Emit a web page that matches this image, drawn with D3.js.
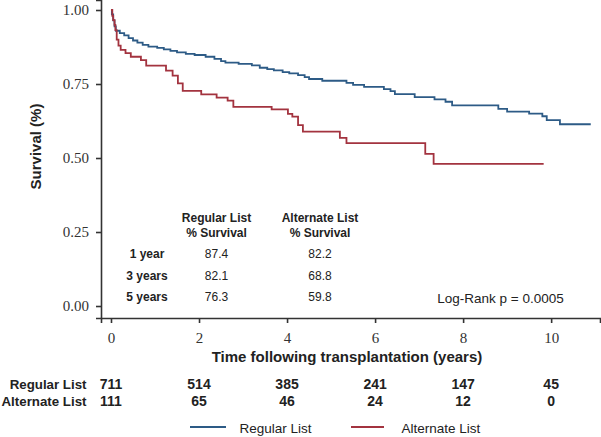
<!DOCTYPE html>
<html>
<head>
<meta charset="utf-8">
<script src="https://cdn.jsdelivr.net/npm/d3@7"></script>
<style>
  body { margin: 0; background: #fff; }
  svg { display: block; }
</style>
</head>
<body>
<svg id="chart" width="601" height="437"></svg>
<script>
// ---- Data ----
const regularTimes  = [0, 0.02, 0.05, 0.08, 0.11, 0.2, 0.3, 0.4, 0.5, 0.6, 0.72, 0.85, 1.05, 1.2, 1.35, 1.5, 1.7, 1.9, 2.15, 2.35, 2.5, 2.6, 2.9, 3.2, 3.38, 3.55, 3.7, 3.9, 4.05, 4.25, 4.4, 4.5, 4.8, 5.35, 5.5, 5.75, 6.2, 6.35, 6.45, 6.9, 7.35, 7.6, 7.75, 8.8, 9.0, 9.5, 9.8, 9.9, 10.2, 10.9];
const regularSurv   = [1.0, 0.985, 0.965, 0.945, 0.93, 0.922, 0.914, 0.905, 0.897, 0.89, 0.882, 0.876, 0.872, 0.867, 0.862, 0.857, 0.852, 0.848, 0.842, 0.835, 0.827, 0.822, 0.818, 0.813, 0.805, 0.8, 0.796, 0.79, 0.786, 0.78, 0.773, 0.767, 0.761, 0.754, 0.747, 0.74, 0.733, 0.726, 0.716, 0.706, 0.698, 0.69, 0.678, 0.666, 0.657, 0.65, 0.641, 0.628, 0.614, 0.614];
const alternateTimes = [0, 0.03, 0.05, 0.08, 0.1, 0.13, 0.17, 0.22, 0.33, 0.45, 0.68, 0.8, 1.25, 1.4, 1.52, 1.63, 2.05, 2.4, 2.65, 2.78, 3.65, 4.02, 4.12, 4.25, 4.36, 5.2, 5.35, 7.14, 7.33, 9.83];
const alternateSurv  = [1.0, 0.98, 0.966, 0.95, 0.932, 0.9, 0.88, 0.865, 0.854, 0.842, 0.831, 0.812, 0.795, 0.778, 0.752, 0.727, 0.715, 0.704, 0.694, 0.673, 0.664, 0.649, 0.64, 0.611, 0.589, 0.568, 0.55, 0.514, 0.48, 0.48];

const seriesNames = ["Regular List", "Alternate List"];
const xTicks = [0, 2, 4, 6, 8, 10];
const yTicks = [0, 0.25, 0.5, 0.75, 1.0];
const riskRegular = [711, 514, 385, 241, 147, 45];
const riskAlternate = [111, 65, 46, 24, 12, 0];
const tableRows = ["1 year", "3 years", "5 years"];
const tableRegular = ["87.4", "82.1", "76.3"];
const tableAlternate = ["82.2", "68.8", "59.8"];
const tableHeaders = [["Regular List", "% Survival"], ["Alternate List", "% Survival"]];
const pValueText = "Log-Rank p = 0.0005";

// ---- Layout ----
const colors = ["#2d5b86", "#a3333f"];
const axisColor = "#333";
const serif = "'Liberation Serif', 'Times New Roman', serif";
const sans = "'Liberation Sans', Arial, sans-serif";

const svg = d3.select("#chart");
const x = d3.scaleLinear().domain([-0.227, 11.11]).range([101, 600]);
const y = d3.scaleLinear().domain([-0.0405, 1.0338]).range([318, 0]);

// Curves
const line = d3.line().x(d => x(d[0])).y(d => y(d[1])).curve(d3.curveStepAfter);
const series = [
  d3.zip(regularTimes, regularSurv),
  d3.zip(alternateTimes, alternateSurv)
];
series.forEach((s, i) => {
  svg.append("path").datum(s)
    .attr("d", line)
    .attr("fill", "none")
    .attr("stroke", colors[i])
    .attr("stroke-width", 1.8);
});

// Axes
const xAxis = svg.append("g").attr("transform", "translate(0,318)")
  .call(d3.axisBottom(x).tickValues(xTicks).tickSizeOuter(0).tickSize(5).tickPadding(9).tickFormat(d3.format("d")));
const yAxis = svg.append("g").attr("transform", "translate(101,0)")
  .call(d3.axisLeft(y).tickValues(yTicks).tickSizeOuter(0).tickSize(5).tickPadding(7).tickFormat(d3.format(".2f")));
[xAxis, yAxis].forEach(g => {
  g.select(".domain").attr("stroke", axisColor).attr("stroke-width", 1.6);
  g.selectAll(".tick line").attr("stroke", axisColor).attr("stroke-width", 1.6);
  g.selectAll(".tick text").attr("fill", "#333").style("font-family", serif).style("font-size", "15px");
});

// Axis titles
svg.append("text")
  .attr("transform", "translate(41,146.5) rotate(-90)")
  .attr("text-anchor", "middle")
  .style("font-family", sans).style("font-weight", "bold").style("font-size", "15px")
  .attr("fill", "#222")
  .text("Survival (%)");
svg.append("text")
  .attr("x", 347).attr("y", 362)
  .attr("text-anchor", "middle")
  .style("font-family", sans).style("font-weight", "bold").style("font-size", "15px")
  .attr("fill", "#222")
  .text("Time following transplantation (years)");

// In-plot survival table
const tbl = svg.append("g").style("font-family", sans).attr("fill", "#222");
const headerX = [216.5, 320];
tableHeaders.forEach((h, i) => {
  h.forEach((t, j) => {
    tbl.append("text").attr("x", headerX[i]).attr("y", 222 + j * 15)
      .attr("text-anchor", "middle").style("font-weight", "bold").style("font-size", "12px").text(t);
  });
});
tableRows.forEach((r, i) => {
  const yy = 258 + i * 21.5;
  tbl.append("text").attr("x", 147).attr("y", yy).attr("text-anchor", "middle")
    .style("font-weight", "bold").style("font-size", "12px").text(r);
  tbl.append("text").attr("x", headerX[0]).attr("y", yy).attr("text-anchor", "middle")
    .style("font-size", "12px").text(tableRegular[i]);
  tbl.append("text").attr("x", headerX[1]).attr("y", yy).attr("text-anchor", "middle")
    .style("font-size", "12px").text(tableAlternate[i]);
});
svg.append("text").attr("x", 500.5).attr("y", 303).attr("text-anchor", "middle")
  .style("font-family", sans).style("font-size", "13.5px").attr("fill", "#222")
  .text(pValueText);

// Risk table
const riskRows = [riskRegular, riskAlternate];
riskRows.forEach((row, i) => {
  const yy = 389 + i * 17;
  svg.append("text").attr("x", 86.5).attr("y", yy).attr("text-anchor", "end")
    .style("font-family", sans).style("font-weight", "bold").style("font-size", "13.3px")
    .attr("fill", "#222").text(seriesNames[i]);
  svg.selectAll(null).data(row).enter().append("text")
    .attr("x", (d, k) => x(xTicks[k]))
    .attr("y", yy)
    .attr("text-anchor", "middle")
    .style("font-family", sans).style("font-weight", "bold").style("font-size", "14px")
    .attr("fill", "#222")
    .text(d => d);
});

// Legend
const legendItems = [{x0: 190, x1: 226, tx: 239.5}, {x0: 351, x1: 384, tx: 401.5}];
legendItems.forEach((it, i) => {
  svg.append("line").attr("x1", it.x0).attr("x2", it.x1).attr("y1", 427).attr("y2", 427)
    .attr("stroke", colors[i]).attr("stroke-width", 2);
  svg.append("text").attr("x", it.tx).attr("y", 432.5)
    .style("font-family", sans).style("font-size", "13.5px").attr("fill", "#222")
    .text(seriesNames[i]);
});
</script>
</body>
</html>
